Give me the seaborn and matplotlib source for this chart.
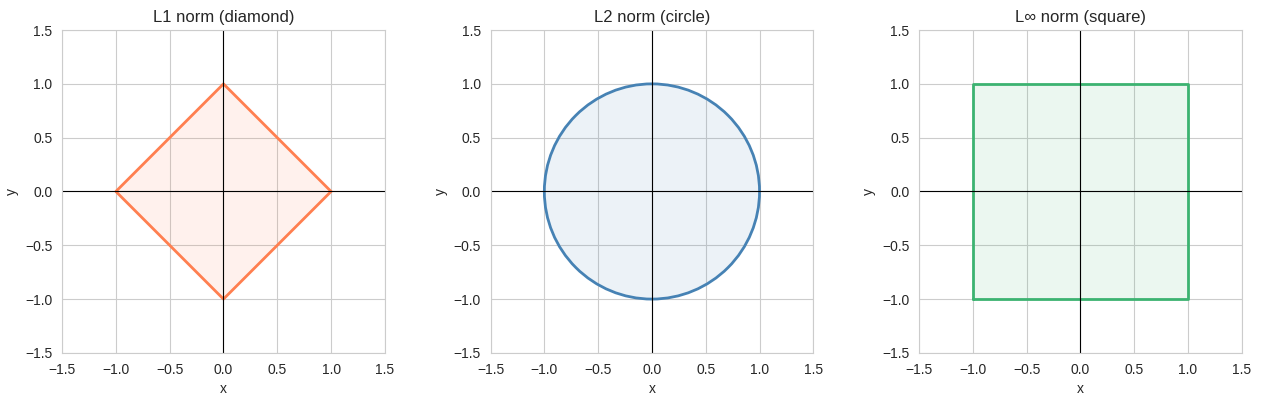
import matplotlib
matplotlib.use("Agg")
import matplotlib.pyplot as plt
import seaborn as sns

titles = ["L1 norm (diamond)", "L2 norm (circle)", "L∞ norm (square)"]
colors = ["#FF7F50", "#4682B4", "#3CB371"]
diamond_x = [1, 0, -1, 0, 1]
diamond_y = [0, 1, 0, -1, 0]
circle_radius = 1.0
square_x = [-1, 1, 1, -1, -1]
square_y = [-1, -1, 1, 1, -1]
ticks = [-1.5, -1.0, -0.5, 0.0, 0.5, 1.0, 1.5]

sns.set_style("whitegrid")
plt.rcParams['font.family'] = ['Liberation Sans', 'DejaVu Sans']
plt.rcParams['xtick.labelsize'] = 10
plt.rcParams['ytick.labelsize'] = 10
fig, axes = plt.subplots(1, 3, figsize=(12.61, 4.01), dpi=100)

for i, ax in enumerate(axes):
    c = colors[i]
    if i == 0:
        ax.fill(diamond_x, diamond_y, color=c, alpha=0.1)
        ax.plot(diamond_x, diamond_y, color=c, lw=2)
    elif i == 1:
        ax.add_patch(plt.Circle((0, 0), circle_radius, facecolor=c, alpha=0.1, edgecolor="none"))
        ax.add_patch(plt.Circle((0, 0), circle_radius, fill=False, edgecolor=c, lw=2))
    else:
        ax.fill(square_x, square_y, color=c, alpha=0.1)
        ax.plot(square_x, square_y, color=c, lw=2)
    ax.axhline(0, color="black", lw=0.8)
    ax.axvline(0, color="black", lw=0.8)
    ax.set_xlim(-1.5, 1.5)
    ax.set_ylim(-1.5, 1.5)
    ax.set_xticks(ticks)
    ax.set_yticks(ticks)
    ax.set_aspect("equal")
    ax.set_title(titles[i], fontsize=12)
    ax.set_xlabel("x", fontsize=10)
    ax.set_ylabel("y", fontsize=10)

fig.subplots_adjust(left=0.049, right=0.985, top=0.925, bottom=0.12, wspace=0.325)
fig.savefig("out.png", dpi=100)
